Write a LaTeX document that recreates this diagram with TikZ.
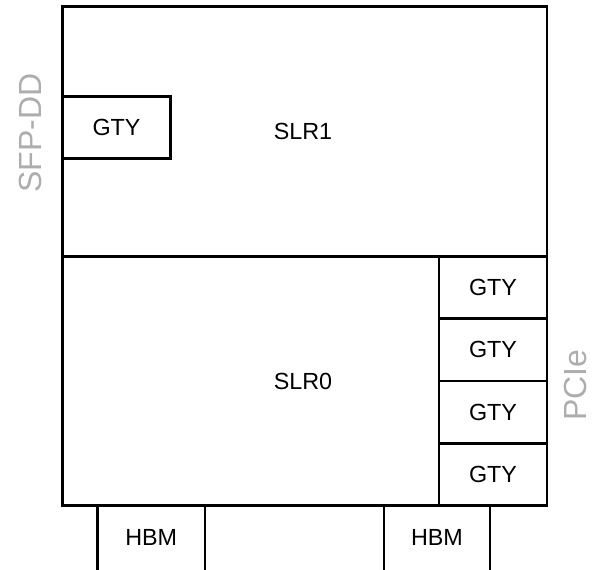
\documentclass[tikz,border=0pt]{standalone}
\usepackage{fontspec}
\setmainfont{Liberation Sans}
\begin{document}
\begin{tikzpicture}[x=0.75pt,y=-0.75pt,
  box/.style={draw=black,line width=1.8pt},
  lbl/.style={font=\fontsize{17.5}{20}\selectfont,text=black,inner sep=0pt},
  side/.style={font=\fontsize{24}{28}\selectfont,text=black!32,inner sep=0pt,rotate=90}]
\useasboundingbox (0,0) rectangle (592,569);
\begin{scope}
\clip (0,0) rectangle (592,569);
% HBM boxes (cut off at bottom)
\draw[box] (97.5,580) -- (97.5,505.5) -- (205,505.5) -- (205,580);
\draw[box] (384,580) -- (384,505.5) -- (490,505.5) -- (490,580);
\end{scope}
\coordinate (hbmA) at (151.25,537);
\coordinate (hbmB) at (437,537);
\node[lbl] (hbmAt) at (hbmA) {HBM};
\node[lbl] (hbmBt) at (hbmB) {HBM};
% SLR regions
\draw[box] (62.5,6.5) rectangle (547,256.5);
\draw[box] (62.5,256.5) rectangle (547,505.5);
\node[lbl] (slr1) at (303,131) {SLR1};
\node[lbl] (slr0) at (303,381) {SLR0};
% GTY on SLR1
\draw[box] (62.5,96.5) rectangle (170.5,158.5);
\node[lbl] (gtyL) at (116.5,127.5) {GTY};
% GTY stack
\draw[box] (439,256.5) rectangle (547,318.5);
\draw[box] (439,318.5) rectangle (547,381);
\draw[box] (439,381) rectangle (547,443.5);
\draw[box] (439,443.5) rectangle (547,505.5);
\node[lbl] (gty1) at (493,287.5) {GTY};
\node[lbl] (gty2) at (493,349.75) {GTY};
\node[lbl] (gty3) at (493,412.25) {GTY};
\node[lbl] (gty4) at (493,474.5) {GTY};
% side labels
\node[side] (sfp) at (30,133) {SFP-DD};
\node[side] (pcie) at (575,385) {PCIe};
\end{tikzpicture}
\end{document}
